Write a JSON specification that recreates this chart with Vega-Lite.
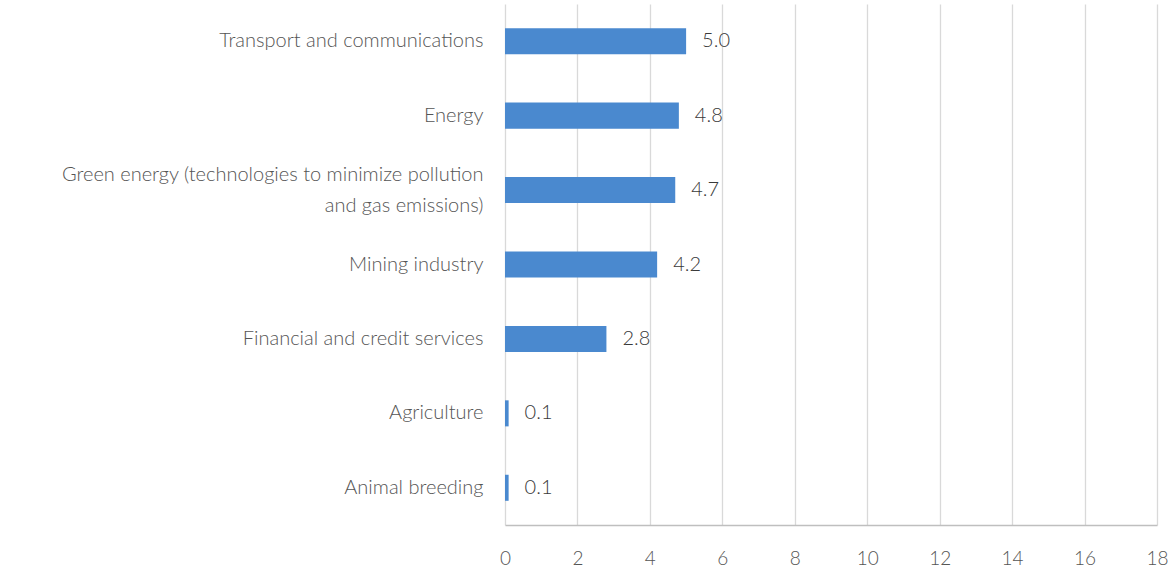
{
  "$schema": "https://vega.github.io/schema/vega-lite/v6.json",
  "autosize": "none",
  "padding": {"left": 505, "top": 4, "right": 16, "bottom": 52},
  "width": 652,
  "height": 521,
  "background": "white",
  "config": {"view": {"stroke": null}, "font": "Lato"},
  "data": {
    "values": [
      {"sector": "Transport and communications", "value": 5.0},
      {"sector": "Energy", "value": 4.8},
      {"sector": "Green energy (technologies to minimize pollution|and gas emissions)", "value": 4.7},
      {"sector": "Mining industry", "value": 4.2},
      {"sector": "Financial and credit services", "value": 2.8},
      {"sector": "Agriculture", "value": 0.1},
      {"sector": "Animal breeding", "value": 0.1}
    ]
  },
  "encoding": {
    "y": {
      "field": "sector",
      "type": "nominal",
      "sort": null,
      "title": null,
      "scale": {"paddingInner": 0.65, "paddingOuter": 0.325},
      "axis": {
        "domain": false,
        "ticks": false,
        "labelPadding": 22,
        "labelFont": "Lato",
        "labelFontSize": 20,
        "labelFontWeight": 300,
        "labelColor": "#555555",
        "labelLimit": 600,
        "labelLineHeight": 31,
        "labelOffset": {"condition": {"test": "indexof(datum.value, '|') >= 0", "value": -15}, "value": 0},
        "labelExpr": "split(datum.label, '|')"
      }
    },
    "x": {
      "field": "value",
      "type": "quantitative",
      "title": null,
      "scale": {"domain": [0, 18], "nice": false},
      "axis": {
        "values": [0, 2, 4, 6, 8, 10, 12, 14, 16, 18],
        "grid": true,
        "gridColor": "#d9d9d9",
        "gridWidth": 1.3,
        "domainColor": "#bfbfbf",
        "domainWidth": 1.5,
        "ticks": false,
        "labelPadding": 24,
        "labelFont": "Lato",
        "labelFontSize": 19,
        "labelFontWeight": 300,
        "labelColor": "#555555",
        "labelFlush": false
      }
    }
  },
  "layer": [
    {"mark": {"type": "bar", "color": "#4a89cf"}},
    {
      "mark": {"type": "text", "align": "left", "dx": 16, "font": "Lato", "fontSize": 20, "fontWeight": 300, "color": "#3a3a3a"},
      "encoding": {"text": {"field": "value", "type": "quantitative", "format": ".1f"}}
    }
  ]
}
